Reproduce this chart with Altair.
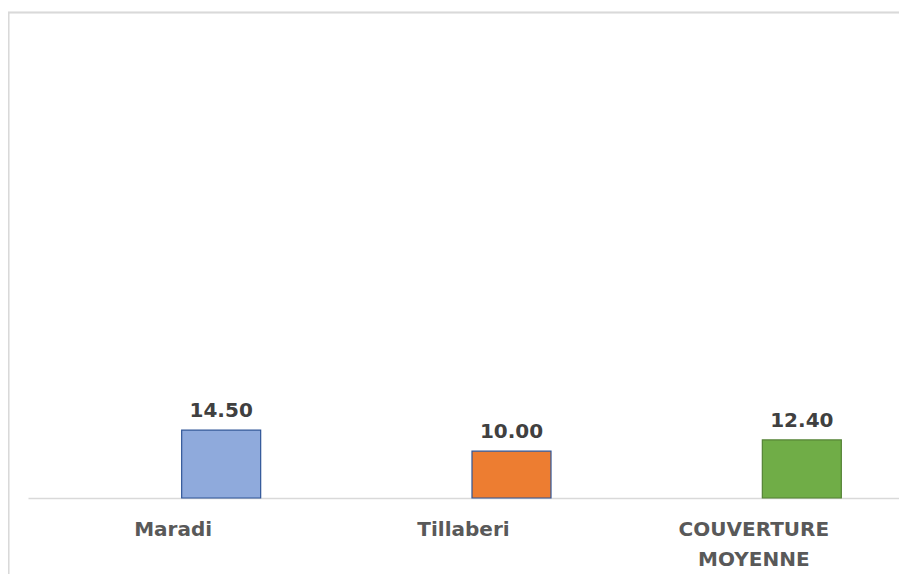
import altair as alt
import pandas as pd

categories = ["Maradi", "Tillaberi", "COUVERTURE MOYENNE"]
values = [14.50, 10.00, 12.40]
fills = ["#8FAADC", "#ED7D31", "#70AD47"]
strokes = ["#2F5597", "#2F5597", "#548235"]

df = pd.DataFrame({"cat": categories, "val": values, "fill": fills, "stroke": strokes})

W, H = 871, 468
FONT = "DejaVu Sans"

x = alt.X("cat:N", sort=categories, title=None,
          scale=alt.Scale(paddingInner=0, paddingOuter=0),
          axis=alt.Axis(labelAngle=0, ticks=False, domainColor="#D9D9D9", domainWidth=1.5,
                        labelFont=FONT, labelFontSize=20, labelFontWeight="bold",
                        labelColor="#595959", labelPadding=21, labelLineHeight=30,
                        labelExpr="split(datum.label, ' ')", labelBaseline="top"))
y = alt.Y("val:Q", scale=alt.Scale(domain=[0, 100]), axis=None)

border = alt.Chart(df).mark_rect(fill="transparent", stroke="#D9D9D9", strokeWidth=1.5).encode(
    x=alt.value(-19.5), x2=alt.value(W + 30), y=alt.value(-17.5), y2=alt.value(H + 200)
)

bars = alt.Chart(df).mark_bar(size=79, xOffset=48, strokeWidth=1.2).encode(
    x=x, y=y,
    fill=alt.Fill("fill:N", scale=None),
    stroke=alt.Stroke("stroke:N", scale=None),
)

labels = alt.Chart(df).mark_text(xOffset=48, dy=-13, baseline="alphabetic", font=FONT,
                                 fontSize=20, fontWeight="bold", color="#404040").encode(
    x=x, y=y, text=alt.Text("val:Q", format=".2f")
)

chart = alt.layer(border, bars, labels).properties(
    width=W, height=H,
    autosize=alt.AutoSizeParams(type="none"),
    padding={"left": 20, "top": 22, "right": 0, "bottom": 76},
).configure_view(stroke=None)

chart.save("out.html", embed_options={"renderer": "svg", "actions": False})
